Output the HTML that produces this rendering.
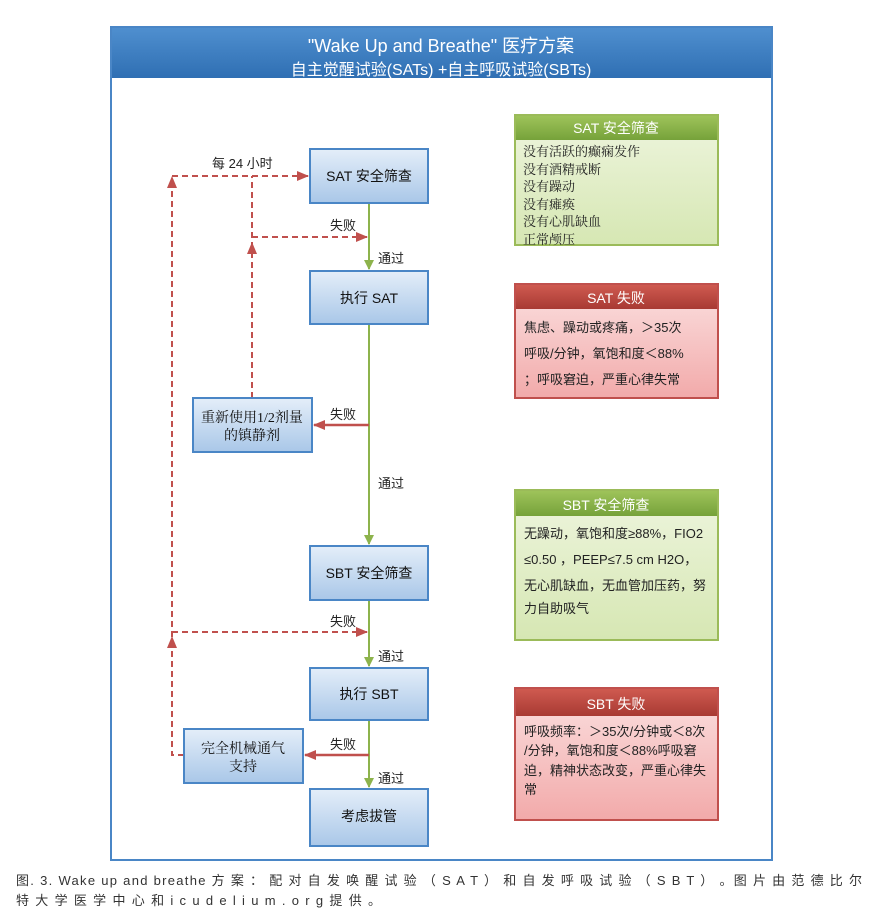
<!DOCTYPE html>
<html><head><meta charset="utf-8">
<style>
html,body{margin:0;padding:0;background:#fff;}
svg{display:block;font-family:"Liberation Sans","Noto Sans CJK SC",sans-serif;}
.serif{font-family:"Liberation Serif","Noto Serif CJK SC",serif;}
</style></head>
<body>
<svg width="882" height="918" viewBox="0 0 882 918" xmlns="http://www.w3.org/2000/svg">
<defs>
<linearGradient id="hdr" x1="0" y1="0" x2="0" y2="1"><stop offset="0" stop-color="#4f8fcf"/><stop offset="1" stop-color="#2f6fb3"/></linearGradient>
<linearGradient id="box" x1="0" y1="0" x2="0" y2="1"><stop offset="0" stop-color="#e4eef9"/><stop offset="1" stop-color="#a9c7e8"/></linearGradient>
<linearGradient id="gh" x1="0" y1="0" x2="0" y2="1"><stop offset="0" stop-color="#9ec35a"/><stop offset="1" stop-color="#76a23a"/></linearGradient>
<linearGradient id="gb" x1="0" y1="0" x2="0" y2="1"><stop offset="0" stop-color="#eef5de"/><stop offset="1" stop-color="#d6e7b3"/></linearGradient>
<linearGradient id="rh" x1="0" y1="0" x2="0" y2="1"><stop offset="0" stop-color="#cf5a50"/><stop offset="1" stop-color="#a83a33"/></linearGradient>
<linearGradient id="rb" x1="0" y1="0" x2="0" y2="1"><stop offset="0" stop-color="#fbe0e0"/><stop offset="1" stop-color="#f2aaaa"/></linearGradient>
<marker id="ag" markerWidth="10" markerHeight="10" refX="9" refY="5" orient="auto" markerUnits="userSpaceOnUse"><path d="M0,0 L10,5 L0,10 z" fill="#8db34c"/></marker>
<marker id="ar" markerWidth="12" markerHeight="10" refX="11" refY="5" orient="auto" markerUnits="userSpaceOnUse"><path d="M0,0 L12,5 L0,10 z" fill="#c0504d"/></marker>
</defs>

<rect x="111" y="27" width="661" height="833" fill="#fff" stroke="#4a86c6" stroke-width="2"/>
<rect x="112" y="28" width="659" height="50" fill="url(#hdr)"/>
<text x="441" y="52" text-anchor="middle" font-size="18" fill="#fff">"Wake Up and Breathe" 医疗方案</text>
<text x="441" y="75" text-anchor="middle" font-size="16" fill="#fff">自主觉醒试验(SATs) +自主呼吸试验(SBTs)</text>

<g stroke="#8db34c" stroke-width="2" fill="none">
<line x1="369" y1="204" x2="369" y2="269" marker-end="url(#ag)"/>
<line x1="369" y1="324" x2="369" y2="544" marker-end="url(#ag)"/>
<line x1="369" y1="600" x2="369" y2="666" marker-end="url(#ag)"/>
<line x1="369" y1="720" x2="369" y2="787" marker-end="url(#ag)"/>
</g>

<g stroke="#c0504d" stroke-width="2" fill="none" stroke-dasharray="6,4">
<polyline points="184,755 172,755 172,182"/>
<line x1="172" y1="176" x2="308" y2="176" marker-end="url(#ar)"/>
<line x1="252" y1="398" x2="252" y2="176"/>
<line x1="252" y1="237" x2="367" y2="237" marker-end="url(#ar)"/>
<line x1="172" y1="632" x2="367" y2="632" marker-end="url(#ar)"/>
</g>
<path d="M172,176 l-5,12 h10 z" fill="#c0504d"/>
<path d="M252,242 l-5,12 h10 z" fill="#c0504d"/>
<path d="M172,636 l-5,12 h10 z" fill="#c0504d"/>

<g stroke="#c0504d" stroke-width="2.5" fill="none">
<line x1="369" y1="425" x2="314" y2="425" marker-end="url(#ar)"/>
<line x1="369" y1="755" x2="305" y2="755" marker-end="url(#ar)"/>
</g>

<g font-size="13" fill="#222">
<text x="212" y="168">每 24 小时</text>
<text x="330" y="230">失败</text>
<text x="378" y="263">通过</text>
<text x="330" y="419">失败</text>
<text x="378" y="488">通过</text>
<text x="330" y="626">失败</text>
<text x="378" y="661">通过</text>
<text x="330" y="749">失败</text>
<text x="378" y="783">通过</text>
</g>

<g stroke="#4a86c6" stroke-width="2" fill="url(#box)">
<rect x="310" y="149" width="118" height="54"/>
<rect x="310" y="271" width="118" height="53"/>
<rect x="193" y="398" width="119" height="54"/>
<rect x="310" y="546" width="118" height="54"/>
<rect x="310" y="668" width="118" height="52"/>
<rect x="184" y="729" width="119" height="54"/>
<rect x="310" y="789" width="118" height="57"/>
</g>
<g font-size="14" fill="#111" text-anchor="middle">
<text x="369" y="181">SAT 安全筛查</text>
<text x="369" y="303">执行 SAT</text>
<text class="serif" x="252" y="422">重新使用1/2剂量</text>
<text class="serif" x="252" y="440">的镇静剂</text>
<text x="369" y="578">SBT 安全筛查</text>
<text x="369" y="699">执行 SBT</text>
<text class="serif" x="243" y="753">完全机械通气</text>
<text class="serif" x="243" y="771">支持</text>
<text x="369" y="821">考虑拔管</text>
</g>

<rect x="515" y="115" width="203" height="130" fill="url(#gb)" stroke="#9bbb59" stroke-width="2"/>
<rect x="516" y="116" width="201" height="24" fill="url(#gh)"/>
<text x="616" y="133" text-anchor="middle" font-size="14" fill="#fff">SAT 安全筛查</text>
<g font-size="13" fill="#222" class="serif">
<text x="523" y="156">没有活跃的癫痫发作</text>
<text x="523" y="174">没有酒精戒断</text>
<text x="523" y="191">没有躁动</text>
<text x="523" y="209">没有瘫痪</text>
<text x="523" y="226">没有心肌缺血</text>
<text x="523" y="244">正常颅压</text>
</g>

<rect x="515" y="284" width="203" height="114" fill="url(#rb)" stroke="#c0504d" stroke-width="2"/>
<rect x="516" y="285" width="201" height="24" fill="url(#rh)"/>
<text x="616" y="303" text-anchor="middle" font-size="14" fill="#fff">SAT 失败</text>
<g font-size="13" fill="#222">
<text x="524" y="332">焦虑、躁动或疼痛，＞35次</text>
<text x="524" y="358">呼吸/分钟，氧饱和度＜88%</text>
<text x="524" y="384">；呼吸窘迫，严重心律失常</text>
</g>

<rect x="515" y="490" width="203" height="150" fill="url(#gb)" stroke="#9bbb59" stroke-width="2"/>
<rect x="516" y="491" width="201" height="25" fill="url(#gh)"/>
<text x="606" y="510" text-anchor="middle" font-size="14" fill="#fff">SBT 安全筛查</text>
<g font-size="13" fill="#222">
<text x="524" y="538">无躁动，氧饱和度≥88%，FIO2</text>
<text x="524" y="564">≤0.50 ，PEEP≤7.5 cm H2O，</text>
<text x="524" y="590">无心肌缺血，无血管加压药，努</text>
<text x="524" y="613">力自助吸气</text>
</g>

<rect x="515" y="688" width="203" height="132" fill="url(#rb)" stroke="#c0504d" stroke-width="2"/>
<rect x="516" y="689" width="201" height="27" fill="url(#rh)"/>
<text x="616" y="709" text-anchor="middle" font-size="14" fill="#fff">SBT 失败</text>
<g font-size="13" fill="#222">
<text x="524" y="736">呼吸频率：＞35次/分钟或＜8次</text>
<text x="524" y="755">/分钟，氧饱和度＜88%呼吸窘</text>
<text x="524" y="775">迫，精神状态改变，严重心律失</text>
<text x="524" y="794">常</text>
</g>

<g font-size="13" fill="#333">
<text x="16" y="885" textLength="846" lengthAdjust="spacing">图. 3. Wake up and breathe 方 案 ： 配 对 自 发 唤 醒 试 验 （ S A T ） 和 自 发 呼 吸 试 验 （ S B T ） 。图 片 由 范 德 比 尔</text>
<text x="16" y="905" textLength="365" lengthAdjust="spacing">特 大 学 医 学 中 心 和 i c u d e l i u m . o r g 提 供 。</text>
</g>
</svg>
</body></html>
